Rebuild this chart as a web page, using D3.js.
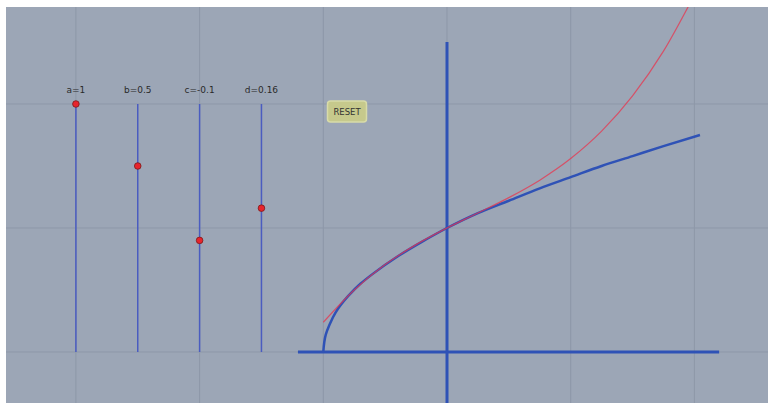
<!DOCTYPE html>
<html><head><meta charset="utf-8">
<script src="https://cdn.jsdelivr.net/npm/d3@7"></script>
<style>html,body{margin:0;padding:0;background:#fff;overflow:hidden}</style>
</head><body><svg id="c" width="768" height="403"></svg>
<script>
// slider data
const sliderNames = ["a", "b", "c", "d"];
const sliderValues = [1, 0.5, -0.1, 0.16];
const sliderPos = [-3, -2.5, -2, -1.5];
// grid ticks (units)
const gridX = [-3, -2, -1, 0, 1, 2];
const gridY = [0, 1, 2];
// blue curve: sqrt(1+x)
const blueX = [-1, -0.98, -0.95, -0.9, -0.8, -0.7, -0.6, -0.4, -0.2, 0, 0.25, 0.5, 0.75, 1, 1.25, 1.5, 1.75, 2.045];
const blueY = [0, 0.14, 0.22, 0.32, 0.45, 0.55, 0.63, 0.77, 0.89, 1, 1.12, 1.22, 1.32, 1.41, 1.5, 1.58, 1.66, 1.75];
// red curve: cubic approximation
const redX = [-1, -0.75, -0.5, -0.25, 0, 0.25, 0.5, 0.75, 1, 1.25, 1.5, 1.75, 2];
const redY = [0.24, 0.50, 0.705, 0.866, 1, 1.121, 1.245, 1.386, 1.56, 1.781, 2.065, 2.426, 2.88];

const svg = d3.select("#c");
const x = d3.scaleLinear().domain([0, 1]).range([447, 570.7]);
const y = d3.scaleLinear().domain([0, 1]).range([352, 228]);

svg.append("defs").append("clipPath").attr("id", "clip")
  .append("rect").attr("x", 6).attr("y", 7).attr("width", 762).attr("height", 396);

svg.append("rect").attr("x", 6).attr("y", 7).attr("width", 762).attr("height", 396).attr("fill", "#9ca6b6");

const g = svg.append("g").attr("clip-path", "url(#clip)");
g.selectAll(".gx").data(gridX).join("line")
  .attr("x1", d => x(d)).attr("x2", d => x(d)).attr("y1", 7).attr("y2", 403)
  .attr("stroke", "#8d97a8").attr("stroke-width", 1);
g.selectAll(".gy").data(gridY).join("line")
  .attr("y1", d => y(d)).attr("y2", d => y(d)).attr("x1", 6).attr("x2", 768)
  .attr("stroke", "#8d97a8").attr("stroke-width", 1);

// sliders
const sy = d3.scaleLinear().domain([-1, 1]).range([y(0), y(2)]);
sliderNames.forEach((n, i) => {
  const sx = x(sliderPos[i]);
  g.append("line").attr("x1", sx).attr("x2", sx).attr("y1", sy(-1)).attr("y2", sy(1))
    .attr("stroke", "#4a5cc0").attr("stroke-width", 1.5);
  g.append("text").attr("x", sx).attr("y", 93).attr("text-anchor", "middle")
    .attr("font-family", "DejaVu Sans, sans-serif").attr("font-size", 9).attr("fill", "#2a2a2a")
    .text(n + "=" + sliderValues[i]);
  g.append("circle").attr("cx", sx).attr("cy", sy(sliderValues[i])).attr("r", 3.3)
    .attr("fill", "#e8242c").attr("stroke", "#7a1a1a").attr("stroke-width", 0.8);
});

// reset button
g.append("rect").attr("x", 327.5).attr("y", 101).attr("width", 39).attr("height", 21).attr("rx", 3)
  .attr("fill", "#c6c98c").attr("stroke", "#d8dba8").attr("stroke-width", 1.5);
g.append("text").attr("x", 347).attr("y", 115).attr("text-anchor", "middle")
  .attr("font-family", "DejaVu Sans, sans-serif").attr("font-size", 8.5).attr("fill", "#333")
  .text("RESET");

// axes
g.append("line").attr("x1", x(-1.205)).attr("x2", x(2.2)).attr("y1", y(0)).attr("y2", y(0))
  .attr("stroke", "#2f52b6").attr("stroke-width", 3);
g.append("line").attr("x1", x(0)).attr("x2", x(0)).attr("y1", y(2.5)).attr("y2", y(-0.5))
  .attr("stroke", "#2f52b6").attr("stroke-width", 3);

const line = d3.line().x(d => x(d[0])).y(d => y(d[1])).curve(d3.curveMonotoneY);
const lineR = d3.line().x(d => x(d[0])).y(d => y(d[1])).curve(d3.curveMonotoneX);
g.append("path").attr("d", line(blueX.map((v, i) => [v, blueY[i]])))
  .attr("fill", "none").attr("stroke", "#2f52b6").attr("stroke-width", 2.5);
g.append("path").attr("d", lineR(redX.map((v, i) => [v, redY[i]])))
  .attr("fill", "none").attr("stroke", "#e8344e").attr("stroke-width", 1.2).attr("stroke-opacity", 0.75);
</script></body></html>
